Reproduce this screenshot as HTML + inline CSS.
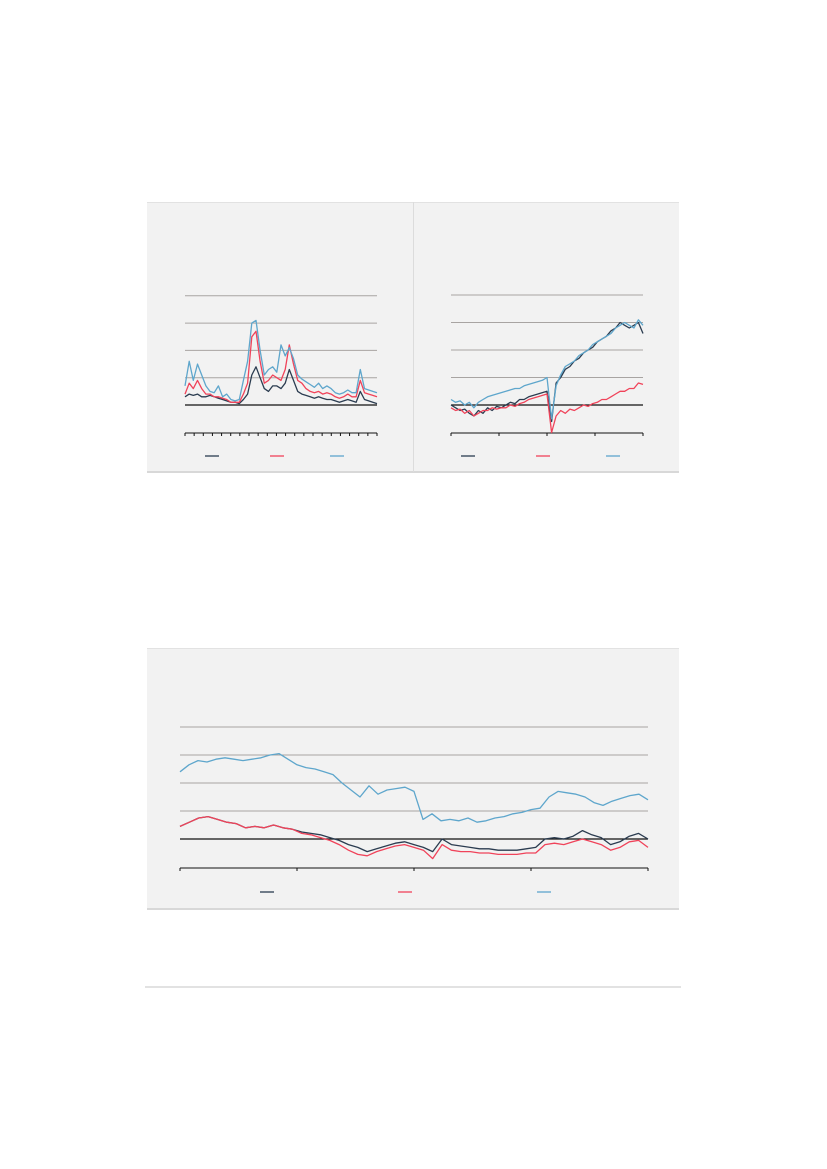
<!DOCTYPE html>
<html><head><meta charset="utf-8"><style>
html,body{margin:0;padding:0;background:#fff;width:827px;height:1169px;overflow:hidden;font-family:"Liberation Sans",sans-serif}
svg{position:absolute;left:0;top:0}
</style></head><body>
<svg id="s" width="827" height="1169">
<rect x="147" y="202" width="532" height="270" fill="#f2f2f2"/>
<line x1="147" y1="202.5" x2="679" y2="202.5" stroke="#e2e2e2"/>
<line x1="147" y1="472" x2="679" y2="472" stroke="#d8d8d8" stroke-width="2"/>
<line x1="413.5" y1="202" x2="413.5" y2="472" stroke="#dcdcdc"/>
<rect x="147" y="648" width="532" height="261" fill="#f2f2f2"/>
<line x1="147" y1="648.5" x2="679" y2="648.5" stroke="#e2e2e2"/>
<line x1="147" y1="909" x2="679" y2="909" stroke="#d8d8d8" stroke-width="2"/>
<line x1="145" y1="987" x2="681" y2="987" stroke="#d8d8d8" stroke-width="1.5"/>
</svg>
<script>
// Chart A (left top)
const aDark=[0.3,0.4,0.35,0.4,0.3,0.3,0.35,0.3,0.25,0.2,0.15,0.1,0.1,0.05,0.2,0.4,1.1,1.4,1.0,0.6,0.5,0.7,0.7,0.6,0.8,1.3,0.9,0.5,0.4,0.35,0.3,0.25,0.3,0.25,0.2,0.2,0.15,0.1,0.15,0.2,0.15,0.1,0.5,0.2,0.15,0.1,0.05];
const aRed=[0.4,0.8,0.6,0.9,0.6,0.4,0.4,0.3,0.3,0.25,0.2,0.1,0.1,0.1,0.4,0.8,2.5,2.7,1.6,0.8,0.9,1.1,1.0,0.9,1.3,2.2,1.5,0.9,0.8,0.6,0.5,0.45,0.5,0.4,0.45,0.4,0.3,0.25,0.3,0.4,0.3,0.3,0.9,0.45,0.4,0.35,0.3];
const aBlue=[0.7,1.6,0.9,1.5,1.1,0.7,0.5,0.45,0.7,0.3,0.4,0.2,0.15,0.2,0.9,1.6,3.0,3.1,2.0,1.1,1.3,1.4,1.2,2.2,1.8,2.1,1.7,1.1,0.95,0.85,0.75,0.65,0.8,0.6,0.7,0.6,0.45,0.4,0.45,0.55,0.45,0.45,1.3,0.6,0.55,0.5,0.45];
// Chart B (right top)
const bDark=[0.0,-0.1,-0.2,-0.15,-0.3,-0.4,-0.2,-0.3,-0.1,-0.2,-0.05,-0.1,0.0,0.1,0.05,0.2,0.2,0.3,0.35,0.4,0.45,0.5,-0.6,0.8,1.0,1.3,1.4,1.6,1.7,1.9,2.0,2.1,2.3,2.4,2.5,2.7,2.8,3.0,2.9,2.8,2.9,3.0,2.6];
const bRed=[-0.1,-0.2,-0.15,-0.3,-0.2,-0.4,-0.3,-0.2,-0.2,-0.1,-0.15,-0.1,-0.1,0.0,-0.05,0.05,0.1,0.2,0.25,0.3,0.35,0.4,-1.0,-0.4,-0.2,-0.3,-0.15,-0.2,-0.1,0.0,-0.05,0.05,0.1,0.2,0.2,0.3,0.4,0.5,0.5,0.6,0.6,0.8,0.75];
const bBlue=[0.2,0.1,0.15,0.0,0.1,-0.1,0.1,0.2,0.3,0.35,0.4,0.45,0.5,0.55,0.6,0.6,0.7,0.75,0.8,0.85,0.9,1.0,-0.5,0.7,1.1,1.4,1.5,1.6,1.8,1.9,2.0,2.2,2.3,2.4,2.5,2.6,2.8,2.9,3.0,2.9,2.8,3.1,2.9];
// Chart C (bottom)
const cDark=[0.45,0.6,0.75,0.8,0.7,0.6,0.55,0.4,0.45,0.4,0.5,0.4,0.35,0.25,0.2,0.15,0.05,-0.05,-0.2,-0.3,-0.45,-0.35,-0.25,-0.15,-0.1,-0.2,-0.3,-0.45,0.0,-0.2,-0.25,-0.3,-0.35,-0.35,-0.4,-0.4,-0.4,-0.35,-0.3,0.0,0.05,0.0,0.1,0.3,0.15,0.05,-0.2,-0.1,0.1,0.2,0.0];
const cRed=[0.45,0.6,0.75,0.8,0.7,0.6,0.55,0.4,0.45,0.4,0.5,0.4,0.35,0.2,0.15,0.05,-0.05,-0.2,-0.4,-0.55,-0.6,-0.45,-0.35,-0.25,-0.2,-0.3,-0.4,-0.7,-0.2,-0.4,-0.45,-0.45,-0.5,-0.5,-0.55,-0.55,-0.55,-0.5,-0.5,-0.2,-0.15,-0.2,-0.1,0.0,-0.1,-0.2,-0.4,-0.3,-0.1,-0.05,-0.3];
const cBlue=[2.4,2.65,2.8,2.75,2.85,2.9,2.85,2.8,2.85,2.9,3.0,3.05,2.85,2.65,2.55,2.5,2.4,2.3,2.0,1.75,1.5,1.9,1.6,1.75,1.8,1.85,1.7,0.7,0.9,0.65,0.7,0.65,0.75,0.6,0.65,0.75,0.8,0.9,0.95,1.05,1.1,1.5,1.7,1.65,1.6,1.5,1.3,1.2,1.35,1.45,1.55,1.6,1.4];

const NS='http://www.w3.org/2000/svg';
const svg=document.getElementById('s');
function mk(tag,attrs){const e=document.createElementNS(NS,tag);for(const k in attrs)e.setAttribute(k,attrs[k]);svg.appendChild(e);return e;}
function chart(id,x0,x1,zeroY,unit,grids,axisY,ticks,legendY,legendXs,series){
  grids.forEach((g,i)=>{const l=mk('line',{x1:x0,x2:x1,y1:zeroY-g*unit,y2:zeroY-g*unit,stroke:'#a8a4a2','stroke-width':1});
    
    });
  const z=mk('line',{x1:x0,x2:x1,y1:zeroY,y2:zeroY,stroke:'#111','stroke-width':1.2});
  
  
  const ax=mk('line',{x1:x0,x2:x1,y1:axisY,y2:axisY,stroke:'#111','stroke-width':1});
  
  
  for(let i=0;i<=ticks;i++){const tx=x0+(x1-x0)*i/ticks;const t=mk('line',{x1:tx,x2:tx,y1:axisY,y2:axisY+3,stroke:'#111','stroke-width':1});
    
    }
  const cols=['#2b3c50','#f0435a','#5ea6cc'];
  series.forEach((d,si)=>{
    const pts=d.map((v,i)=>(x0+(x1-x0)*i/(d.length-1)).toFixed(1)+','+(zeroY-v*unit).toFixed(1)).join(' ');
    const p=mk('polyline',{points:pts,fill:'none',stroke:cols[si],'stroke-width':1.3,'stroke-linejoin':'round'});
    
    
    const lg=mk('line',{x1:legendXs[si],x2:legendXs[si]+14,y1:legendY,y2:legendY,stroke:cols[si],'stroke-width':1.3});
    
    
  });
}
chart('chart-a',185,377,405,27.3,[1,2,3,4],433,21,456,[205,270,330],[aDark,aRed,aBlue]);
chart('chart-b',451,643,405,27.5,[1,2,3,4],433,4,456,[461,536,606],[bDark,bRed,bBlue]);
chart('chart-c',180,648,839,28,[1,2,3,4],868,4,892,[260,398,537],[cDark,cRed,cBlue]);
</script>
</body></html>
